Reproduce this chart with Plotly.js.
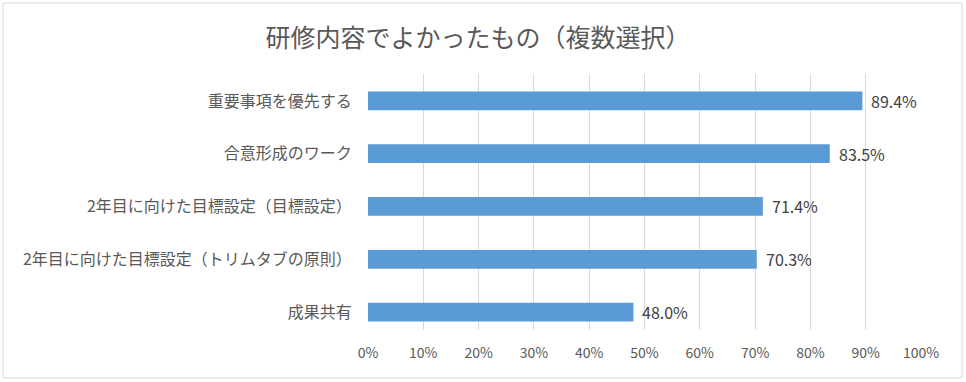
<!DOCTYPE html>
<html><head><meta charset="utf-8">
<script src="https://cdn.plot.ly/plotly-3.0.1.min.js"></script>
<style>html,body{margin:0;padding:0;background:#fff;}#chart{width:966px;height:382px;}</style>
</head><body><div id="chart"></div>
<script>
const categories = ["重要事項を優先する","合意形成のワーク","2年目に向けた目標設定（目標設定）","2年目に向けた目標設定（トリムタブの原則）","成果共有"];
const values = [0.894, 0.835, 0.714, 0.703, 0.480];
const labels = ["89.4%","83.5%","71.4%","70.3%","48.0%"];
const xTickVals = [0,0.1,0.2,0.3,0.4,0.5,0.6,0.7,0.8,0.9,1.0];
const xTickText = ["0%","10%","20%","30%","40%","50%","60%","70%","80%","90%","100%"];
const titleText = "研修内容でよかったもの（複数選択）";

const FONT = "'Noto Sans CJK JP', 'Noto Sans', sans-serif";
const trace = {
  type: 'bar', orientation: 'h',
  x: values, y: categories,
  marker: {color: '#5B9BD5'},
  width: 0.355,
  hoverinfo: 'none'
};
const annotations = values.map((v,i)=>({
  x: v, y: categories[i], xref:'x', yref:'y',
  text: labels[i], showarrow:false, xanchor:'left', yanchor:'middle',
  xshift: 7, font:{family:FONT, size:16, color:'#404040'}
}));
const layout = {
  width: 966, height: 382,
  margin: {l:368, r:45, t:74, b:52},
  paper_bgcolor:'#fff', plot_bgcolor:'#fff',
  title: {text: titleText, x: 478/966, xref:'container', xanchor:'center', y: 1-38/382, yref:'container', yanchor:'middle',
    font:{family:FONT, size:25, color:'#595959'}},
  xaxis: {range:[0,1.0], tickvals:xTickVals, ticktext:xTickText,
    showgrid:true, gridcolor:'#d9d9d9', gridwidth:1, zeroline:false, showline:false,
    ticks:'outside', ticklen:10, tickcolor:'rgba(0,0,0,0)',
    tickfont:{family:FONT, size:14, color:'#595959'}, fixedrange:true},
  yaxis: {type:'category', range:[4.34,-0.51], showgrid:false, zeroline:false, showline:false,
    ticks:'outside', ticklen:12, tickcolor:'rgba(0,0,0,0)',
    tickfont:{family:FONT, size:16, color:'#595959'}, fixedrange:true},
  showlegend:false,
  annotations: annotations,
  shapes: [{type:'rect', xref:'paper', yref:'paper',
    x0:(3-368)/553, x1:(962-368)/553, y0:(330-378)/256, y1:(330-3)/256,
    line:{color:'#d9d9d9', width:1}, fillcolor:'rgba(0,0,0,0)', layer:'below'}]
};
Plotly.newPlot('chart',[trace],layout,{displayModeBar:false, staticPlot:true});
</script></body></html>
